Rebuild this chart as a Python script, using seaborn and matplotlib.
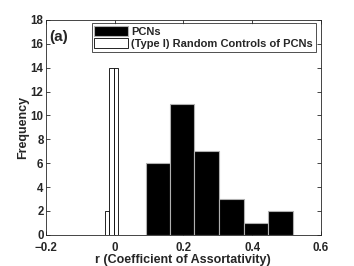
import numpy as np
import pandas as pd
import matplotlib
matplotlib.use("Agg")
import matplotlib.pyplot as plt
import seaborn as sns

# Histogram data
pcn_edges = [0.090, 0.161, 0.232, 0.304, 0.375, 0.447, 0.518]
pcn_counts = [6, 11, 7, 3, 1, 2]
rand_edges = [-0.0267, -0.0151, -0.0023, 0.0093]
rand_counts = [2, 14, 14]

sns.set_style("ticks")
plt.rcParams['font.family'] = ['Liberation Sans', 'DejaVu Sans']
plt.rcParams['font.weight'] = 'bold'

def centers(edges):
    e = np.array(edges)
    return (e[:-1] + e[1:]) / 2

pcn = pd.DataFrame({"r": centers(pcn_edges), "n": pcn_counts})
rnd = pd.DataFrame({"r": centers(rand_edges), "n": rand_counts})

fig = plt.figure(figsize=(3.54, 2.66), dpi=100)
ax = fig.add_axes([0.129, 0.117, 0.778, 0.808])

sns.histplot(data=pcn, x="r", weights="n", bins=pcn_edges, ax=ax,
             color="black", edgecolor="#b0b0b0", linewidth=0.8, alpha=1,
             label="PCNs")
sns.histplot(data=rnd, x="r", weights="n", bins=rand_edges, ax=ax,
             color="white", edgecolor="black", linewidth=0.6, alpha=1,
             label="(Type I) Random Controls of PCNs")

ax.set_xlim(-0.2, 0.6)
ax.set_ylim(0, 18)
ax.set_xticks([-0.2, 0, 0.2, 0.4, 0.6])
ax.set_xticklabels(["\u22120.2", "0", "0.2", "0.4", "0.6"])
ax.set_yticks(range(0, 19, 2))
ax.tick_params(direction="in", top=True, right=True, length=3, width=0.6,
               labelsize=8.3, pad=1.5)
ax.tick_params(axis="x", pad=5)
for s in ax.spines.values():
    s.set_linewidth(0.6)
ax.set_xlabel("r (Coefficient of Assortativity)", fontsize=9,
              fontweight="bold", labelpad=0)
ax.set_ylabel("Frequency", fontsize=9, fontweight="bold", labelpad=1)

ax.text(0.012, 0.955, "(a)", transform=ax.transAxes, fontsize=11,
        fontweight="bold", va="top", ha="left")

leg = ax.legend(loc="upper right", bbox_to_anchor=(0.98, 0.985),
                fontsize=8, frameon=True, fancybox=False,
                borderpad=0.25, labelspacing=0.15, handlelength=3.0,
                handleheight=1.0, handletextpad=0.3, borderaxespad=0)
leg.get_frame().set_edgecolor("black")
leg.get_frame().set_linewidth(0.6)
for t in leg.get_texts():
    t.set_fontweight("bold")

fig.savefig("out.png", dpi=100)
